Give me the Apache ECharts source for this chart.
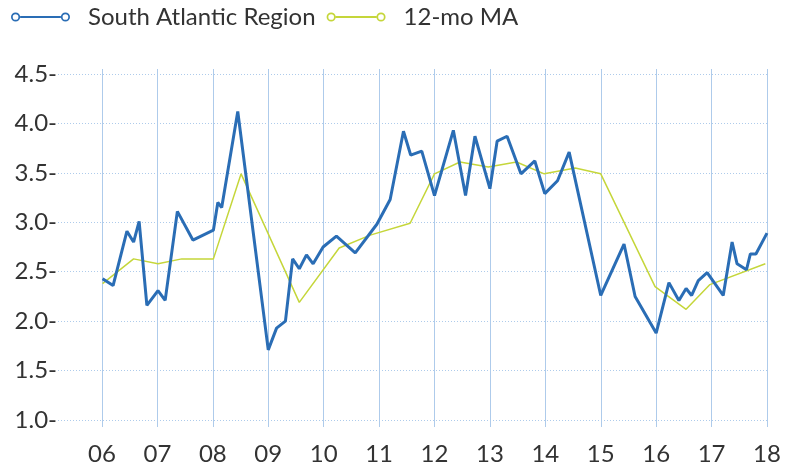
<!DOCTYPE html>
<html>
<head>
<meta charset="utf-8">
<script src="https://cdn.jsdelivr.net/npm/echarts@6/dist/echarts.min.js"></script>
<style>
  html, body { margin: 0; padding: 0; background: #fff; }
  #chart { width: 794px; height: 468px; }
</style>
</head>
<body>
<div id="chart"></div>
<script>
// monthly readings, x = decimal year
const regionYears = [2006.01, 2006.2, 2006.45, 2006.57, 2006.67, 2006.81, 2007.01, 2007.14, 2007.36, 2007.64,
  2008.01, 2008.09, 2008.16, 2008.45, 2009.0, 2009.15, 2009.31, 2009.44, 2009.56, 2009.69, 2009.81, 2009.99,
  2010.23, 2010.57, 2010.96, 2011.2, 2011.44, 2011.57, 2011.77, 2012.0, 2012.34, 2012.56, 2012.73, 2013.0,
  2013.13, 2013.31, 2013.56, 2013.81, 2013.99, 2014.22, 2014.43, 2015.0, 2015.42, 2015.62, 2016.0, 2016.23,
  2016.41, 2016.54, 2016.64, 2016.76, 2016.92, 2017.21, 2017.37, 2017.46, 2017.63, 2017.7, 2017.8, 2018.0];
const regionValues = [2.43, 2.36, 2.91, 2.8, 3.01, 2.16, 2.31, 2.21, 3.11, 2.82,
  2.92, 3.2, 3.15, 4.12, 1.71, 1.93, 2.0, 2.63, 2.53, 2.67, 2.58, 2.75,
  2.86, 2.69, 2.98, 3.23, 3.92, 3.68, 3.72, 3.27, 3.93, 3.27, 3.87, 3.34,
  3.82, 3.87, 3.49, 3.62, 3.29, 3.42, 3.71, 2.26, 2.78, 2.25, 1.88, 2.39,
  2.21, 2.33, 2.26, 2.41, 2.49, 2.26, 2.8, 2.58, 2.52, 2.68, 2.68, 2.89];

const maYears = [2006.01, 2006.57, 2007.01, 2007.44, 2008.01, 2008.51, 2009.56, 2010.28, 2010.84, 2011.56,
  2012.0, 2012.46, 2012.97, 2013.48, 2013.98, 2014.54, 2015.0, 2015.98, 2016.54, 2016.97, 2017.97];
const maValues = [2.38, 2.63, 2.58, 2.63, 2.63, 3.49, 2.19, 2.74, 2.87, 2.99,
  3.49, 3.61, 3.56, 3.61, 3.49, 3.55, 3.49, 2.35, 2.12, 2.37, 2.58];

const yearTicks = [2006, 2007, 2008, 2009, 2010, 2011, 2012, 2013, 2014, 2015, 2016, 2017, 2018];
const valueTicks = [1.0, 1.5, 2.0, 2.5, 3.0, 3.5, 4.0, 4.5];

const BLUE = '#2a6db5';
const LIME = '#c5d63a';
const GRIDLINE = '#aecbeb';

// line with hollow circles at both ends
const legendIcon = 'path://M0.5,5 A4.5,4.5 0 1,1 9.5,5 A4.5,4.5 0 1,1 0.5,5 Z M2.2,5 A2.8,2.8 0 1,0 7.8,5 A2.8,2.8 0 1,0 2.2,5 Z'
  + ' M9.5,4 L49.5,4 L49.5,6 L9.5,6 Z'
  + ' M49.5,5 A4.5,4.5 0 1,1 58.5,5 A4.5,4.5 0 1,1 49.5,5 Z M51.2,5 A2.8,2.8 0 1,0 56.8,5 A2.8,2.8 0 1,0 51.2,5 Z';

const zip = (xs, ys) => xs.map((x, i) => [x, ys[i]]);

const chart = echarts.init(document.getElementById('chart'));
chart.setOption({
  animation: false,
  textStyle: { fontFamily: 'Lato' },
  legend: {
    left: 6,
    top: 0,
    itemWidth: 59,
    itemHeight: 11,
    itemGap: 11,
    textStyle: { fontSize: 24, color: '#333', padding: [0, 0, 0, 13] },
    data: [
      { name: 'South Atlantic Region', icon: legendIcon },
      { name: '12-mo MA', icon: legendIcon }
    ]
  },
  grid: { left: 58, right: 27, top: 69, bottom: 41 },
  xAxis: {
    type: 'value',
    min: 2005.206,
    max: 2018,
    axisLine: { show: false },
    axisTick: { show: false, customValues: yearTicks },
    axisLabel: {
      customValues: yearTicks,
      fontSize: 24,
      color: '#333',
      margin: 15,
      formatter: (v) => String(Math.round(v) % 100).padStart(2, '0')
    },
    splitLine: { show: true, lineStyle: { color: GRIDLINE, width: 1 } }
  },
  yAxis: {
    type: 'value',
    min: 0.93,
    max: 4.55,
    axisLine: { show: false },
    axisTick: { show: false, customValues: valueTicks },
    axisLabel: {
      customValues: valueTicks,
      fontSize: 24,
      color: '#333',
      margin: 1,
      formatter: (v) => v.toFixed(1) + '-'
    },
    splitLine: { show: true, lineStyle: { color: GRIDLINE, width: 1, type: [1, 2] } }
  },
  series: [
    {
      name: 'South Atlantic Region',
      type: 'line',
      data: zip(regionYears, regionValues),
      symbol: 'none',
      color: BLUE,
      lineStyle: { color: BLUE, width: 3 },
      z: 3
    },
    {
      name: '12-mo MA',
      type: 'line',
      data: zip(maYears, maValues),
      symbol: 'none',
      color: LIME,
      lineStyle: { color: LIME, width: 1.5 },
      z: 2
    }
  ]
});
</script>
</body>
</html>
